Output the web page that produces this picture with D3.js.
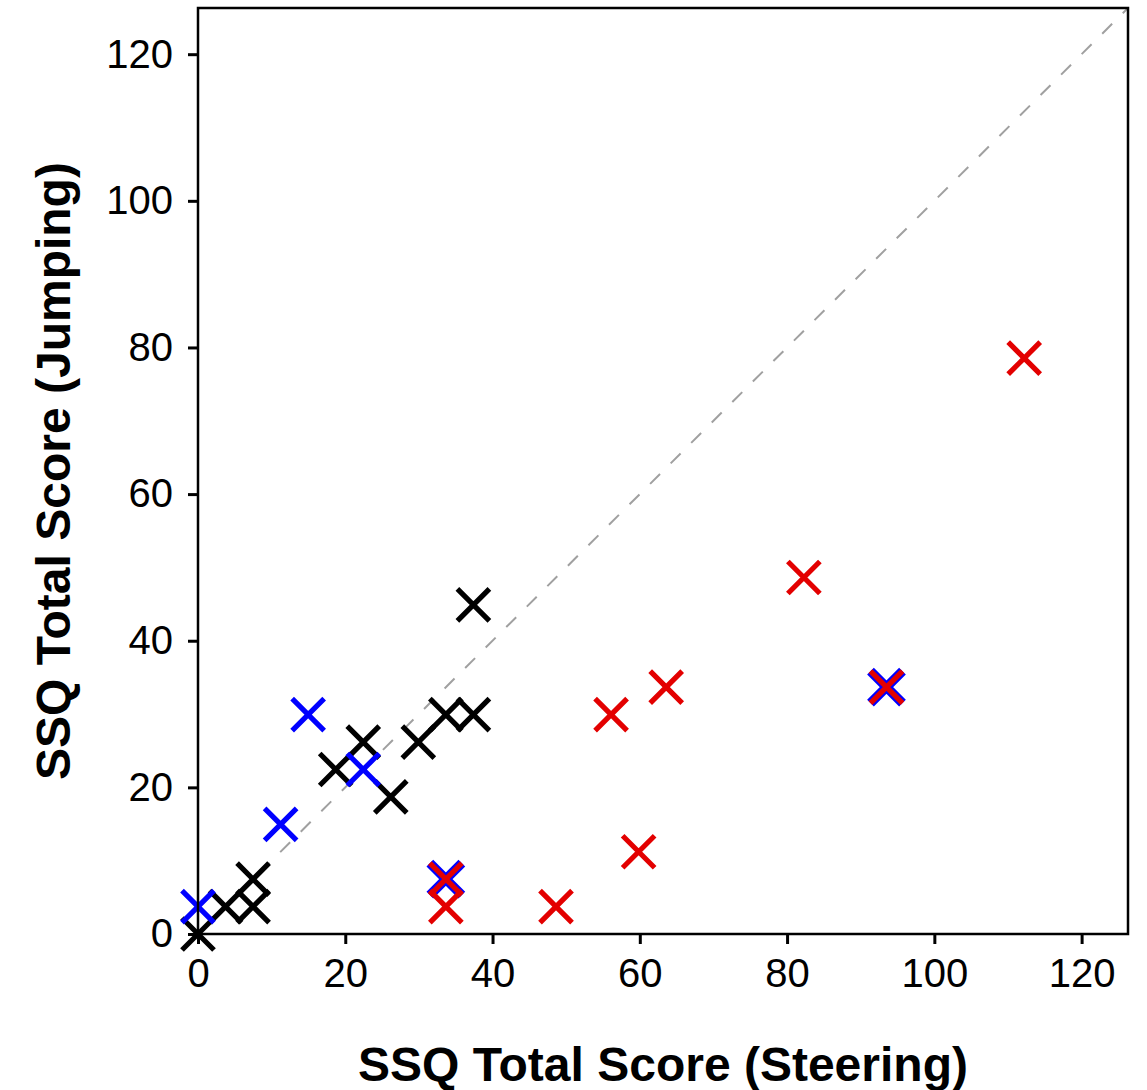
<!DOCTYPE html>
<html>
<head>
<meta charset="utf-8">
<script src="https://cdn.jsdelivr.net/npm/d3@7"></script>
<style>
  body { margin: 0; background: #fff; }
  svg text { font-family: "Liberation Sans", Arial, sans-serif; fill: #000; }
</style>
</head>
<body>
<div id="main"></div>
<script>
// SSQ total scores: steering (x) vs jumping (y), one array per group
let blackSteering = [0, 3.74, 7.48, 7.48, 18.7, 22.44, 26.18, 29.92, 33.66, 37.4, 37.4];
let blackJumping  = [0, 3.74, 3.74, 7.48, 22.44, 26.18, 18.7, 26.18, 29.92, 29.92, 44.88];

let blueSteering = [0, 11.22, 14.96, 22.44, 33.66, 93.5];
let blueJumping  = [3.74, 14.96, 29.92, 22.44, 7.48, 33.66];

let redSteering = [33.66, 33.66, 48.62, 56.1, 59.84, 63.58, 82.28, 93.5, 112.2];
let redJumping  = [3.74, 7.48, 3.74, 29.92, 11.22, 33.66, 48.62, 33.66, 78.54];

let tickValues = [0, 20, 40, 60, 80, 100, 120];
let axisMax = 126.3;

let xLabel = 'SSQ Total Score (Steering)';
let yLabel = 'SSQ Total Score (Jumping)';

let width = 1147;
let height = 1090;
let margin = { top: 8, right: 19, bottom: 156, left: 198 };

let svg = d3.select('#main')
  .append('svg')
  .attr('width', width)
  .attr('height', height);

let x = d3.scaleLinear()
  .domain([0, axisMax])
  .range([margin.left, width - margin.right]);

let y = d3.scaleLinear()
  .domain([0, axisMax])
  .range([height - margin.bottom, margin.top]);

function zip(xs, ys) {
  return xs.map(function(v, i) { return { x: v, y: ys[i] }; });
}

let black = zip(blackSteering, blackJumping);
let blue = zip(blueSteering, blueJumping);
let red = zip(redSteering, redJumping);

// identity line
svg.append('line')
  .attr('x1', x(0)).attr('y1', y(0))
  .attr('x2', x(axisMax)).attr('y2', y(axisMax))
  .attr('stroke', '#a0a0a0')
  .attr('stroke-width', 2)
  .attr('stroke-dasharray', '14,15');

let cross = 'M-16,-16L16,16M-16,16L16,-16';

// blue markers hidden under a red one get drawn heavier so they show as an outline
function underRed(d) {
  return red.some(function(r) { return r.x === d.x && r.y === d.y; });
}

function drawGroup(data, colour, cls) {
  svg.append('g')
    .attr('class', cls)
    .selectAll('path')
    .data(data)
    .enter().append('path')
    .attr('d', cross)
    .attr('transform', function(d) { return 'translate(' + x(d.x) + ',' + y(d.y) + ')'; })
    .attr('fill', 'none')
    .attr('stroke', colour)
    .attr('stroke-width', function(d) { return cls === 'blue' && underRed(d) ? 9.5 : 5.2; });
}

drawGroup(black, '#000', 'black');
drawGroup(blue, '#0000ff', 'blue');
drawGroup(red, '#e30000', 'red');

// axes
let xAxis = svg.append('g')
  .attr('transform', 'translate(0,' + y(0) + ')')
  .call(d3.axisBottom(x).tickValues(tickValues).tickSize(10).tickPadding(15));

let yAxis = svg.append('g')
  .attr('transform', 'translate(' + x(0) + ',0)')
  .call(d3.axisLeft(y).tickValues(tickValues).tickSize(10).tickPadding(15));

[xAxis, yAxis].forEach(function(a) {
  a.select('.domain').remove();
  a.selectAll('.tick line').attr('stroke', '#000').attr('stroke-width', 3);
  a.selectAll('.tick text')
    .style('font-size', '40px')
    .style('font-family', '"Liberation Sans", Arial, sans-serif')
    .attr('fill', '#000');
});

// frame
svg.append('rect')
  .attr('x', x(0))
  .attr('y', y(axisMax))
  .attr('width', x(axisMax) - x(0))
  .attr('height', y(0) - y(axisMax))
  .attr('fill', 'none')
  .attr('stroke', '#000')
  .attr('stroke-width', 2.5);

// axis titles
svg.append('text')
  .attr('x', (x(0) + x(axisMax)) / 2)
  .attr('y', 1081)
  .attr('text-anchor', 'middle')
  .style('font-size', '48px')
  .style('font-weight', 'bold')
  .text(xLabel);

svg.append('text')
  .attr('transform', 'translate(70,' + (y(0) + y(axisMax)) / 2 + ') rotate(-90)')
  .attr('text-anchor', 'middle')
  .style('font-size', '48px')
  .style('font-weight', 'bold')
  .text(yLabel);
</script>
</body>
</html>
